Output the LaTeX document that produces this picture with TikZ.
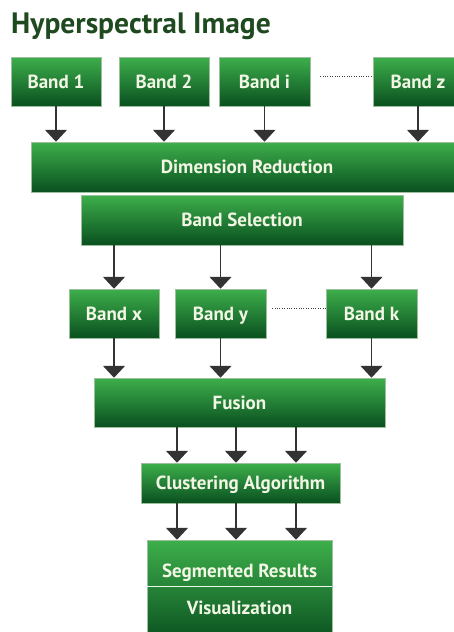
\documentclass[tikz,border=0pt]{standalone}
\usepackage{fontspec}
\setmainfont{PT Sans}
\usetikzlibrary{arrows.meta}
\definecolor{gtop}{HTML}{3DAF4B}
\definecolor{gmid}{HTML}{0E8C3C}
\definecolor{gbot}{HTML}{0A5020}
\definecolor{gbox}{HTML}{9DBF9D}
\definecolor{ttl}{HTML}{1F4A1F}
\definecolor{txt}{HTML}{F2F6E4}
\begin{document}
\begin{tikzpicture}[x=1pt,y=-1pt,
  box/.style={rectangle, draw=gbox, line width=0.5pt, top color=gtop, middle color=gmid, bottom color=gbot,
    text=txt, font=\bfseries\fontsize{19}{22}\selectfont, inner sep=0pt, text height=13.5pt, text depth=0pt},
  lbl/.style={text=txt, font=\bfseries\fontsize{19}{22}\selectfont, inner sep=0pt},
  arr/.style={draw=black!80, line width=1.6pt, -{Triangle[width=22pt,length=12pt]}},
  dots/.style={draw=black!75, line width=1pt, dash pattern=on 1pt off 1.4pt},
  divider/.style={draw=white!90!gtop, line width=1pt}]
\useasboundingbox (0,0) rectangle (454,632);
\node[anchor=base west, text=ttl, inner sep=0pt, font=\bfseries\fontsize{29.5}{32}\selectfont] (title) at (11,33) {Hyperspectral Image};
% top bands
\node[box, minimum width=90pt, minimum height=49pt] (b1) at (56,81.5) {Band 1};
\node[box, minimum width=90pt, minimum height=49pt] (b2) at (164,81.5) {Band 2};
\node[box, minimum width=91pt, minimum height=49pt] (bi) at (264.5,81.5) {Band i};
\node[box, minimum width=90pt, minimum height=49pt] (bz) at (418,81.5) {Band z};
\draw[dots] ([xshift=10pt,yshift=5.5pt]bi.east) -- ([yshift=5.5pt]bz.west);
% dimension reduction
\node[box, minimum width=432pt, minimum height=50pt] (dr) at (247,167) {Dimension Reduction};
\foreach \n in {b1,b2,bi,bz} \draw[arr] (\n.south) -- (dr.north -| \n.south);
% band selection
\node[box, minimum width=322pt, minimum height=50pt] (bs) at (242,220) {Band Selection};
% selected bands
\node[box, minimum width=90pt, minimum height=49pt] (bx) at (114,313.5) {Band x};
\node[box, minimum width=91pt, minimum height=49pt] (by) at (220.5,313.5) {Band y};
\node[box, minimum width=91pt, minimum height=49pt] (bk) at (371.5,313.5) {Band k};
\draw[dots] ([xshift=6pt,yshift=5.5pt]by.east) -- ([yshift=5.5pt]bk.west);
\foreach \n in {bx,by,bk} \draw[arr] (bs.south -| \n.north) -- (\n.north);
% fusion
\node[box, minimum width=291pt, minimum height=49pt] (fu) at (239.5,402.5) {Fusion};
\foreach \n in {bx,by,bk} \draw[arr] (\n.south) -- (fu.north -| \n.south);
% clustering
\node[box, minimum width=199pt, minimum height=40pt] (ca) at (240.5,483) {Clustering Algorithm};
\coordinate (c1) at (177,0);
\coordinate (c2) at (236,0);
\coordinate (c3) at (296,0);
\foreach \c in {c1,c2,c3} \draw[arr] (fu.south -| \c) -- (ca.north -| \c);
% results
\node[box, minimum width=185pt, minimum height=102pt] (res) at (239.5,591) {};
\foreach \c in {c1,c2,c3} \draw[arr] (ca.south -| \c) -- (res.north -| \c);
\node[lbl, anchor=base] (sr) at (239.5,577) {Segmented Results};
\node[lbl, anchor=base] (vi) at (239.5,614) {Visualization};
\coordinate (div) at (0,586);
\draw[divider] (res.west |- div) -- (res.east |- div);
\end{tikzpicture}
\end{document}
